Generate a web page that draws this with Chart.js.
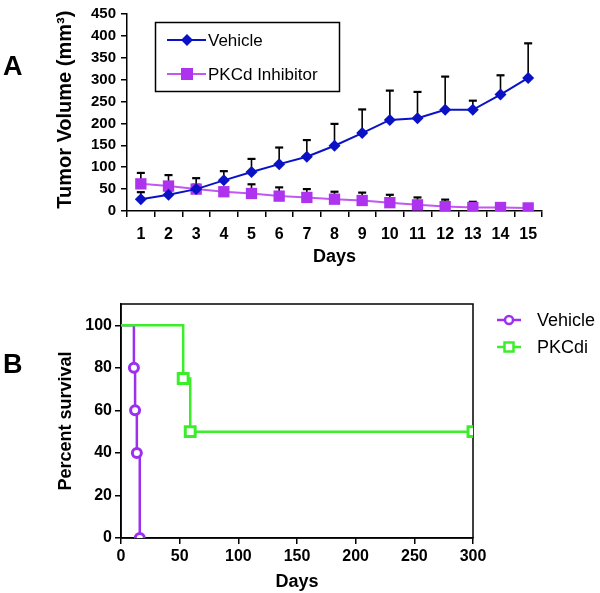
<!DOCTYPE html>
<html lang="en">
<head>
<meta charset="UTF-8">
<title>Tumor volume and survival</title>
<script src="https://cdn.jsdelivr.net/npm/chart.js"></script>
<style>
  body { margin: 0; background: #fff; font-family: "Liberation Sans", Arial, sans-serif; }
  #wrap { position: relative; width: 600px; height: 593px; }
  canvas { position: absolute; left: 0; }
  #chartA { top: 0; }
  #chartB { top: 280px; }
  .tag { position: absolute; left: 3px; font-weight: bold; font-size: 27px; line-height: 1; }
</style>
</head>
<body>
<div id="wrap">
  <canvas id="chartA" width="600" height="280"></canvas>
  <canvas id="chartB" width="600" height="313"></canvas>
  <div class="tag" style="top:53px">A</div>
  <div class="tag" style="top:351px">B</div>
</div>

<script>
// panel A: tumor volume (mean + upper SEM) per day
const days = ['1', '2', '3', '4', '5', '6', '7', '8', '9', '10', '11', '12', '13', '14', '15'];
const vehicleMean = [27, 37, 50, 70, 89, 107, 124, 149, 178, 208, 212, 231, 231, 266, 304];
const vehicleErr = [16, 10, 10, 21, 30, 38, 38, 50, 54, 67, 60, 76, 21, 44, 79];
const inhibitorMean = [62, 57, 50, 44, 40, 34, 31, 27, 24, 19, 14, 10, 8, 8, 7];
const inhibitorErr = [25, 25, 25, 8, 21, 20, 19, 17, 18, 18, 17, 16, 13, 3, 2];

// panel B: Kaplan-Meier survival
const survVehicleDays = [0, 11, 12, 13.5, 16];
const survVehicle = [100, 80, 60, 40, 0];
const survPkcdiDays = [0, 53, 59, 300];
const survPkcdi = [100, 75, 50, 50];

const BLUE = '#0B12C6';
const MAGENTA_LINE = '#C257F2';
const MAGENTA = '#AE33EE';
const PURPLE = '#9B30F0';
const GREEN = '#3CEE2A';

Chart.defaults.font.family = "'Liberation Sans', Arial, sans-serif";
Chart.defaults.color = '#000';

function marker(ctx, style, x, y, r, fill, stroke, lw) {
    ctx.save();
    ctx.beginPath();
    if (style === 'diamond') {
        ctx.moveTo(x, y - r); ctx.lineTo(x + r, y); ctx.lineTo(x, y + r); ctx.lineTo(x - r, y); ctx.closePath();
    } else if (style === 'square') {
        ctx.rect(x - r, y - r, 2 * r, 2 * r);
    } else {
        ctx.arc(x, y, r, 0, Math.PI * 2);
    }
    ctx.fillStyle = fill;
    ctx.fill();
    if (lw) { ctx.lineWidth = lw; ctx.strokeStyle = stroke; ctx.stroke(); }
    ctx.restore();
}

const errorBars = {
    id: 'errorBars',
    beforeDatasetsDraw(chart) {
        const { ctx, scales: { y } } = chart;
        ctx.save();
        ctx.strokeStyle = '#000';
        chart.data.datasets.forEach((ds, i) => {
            chart.getDatasetMeta(i).data.forEach((pt, j) => {
                const top = y.getPixelForValue(ds.data[j] + ds.errUp[j]);
                ctx.lineWidth = 1.6;
                ctx.beginPath();
                ctx.moveTo(pt.x, pt.y);
                ctx.lineTo(pt.x, top);
                ctx.stroke();
                ctx.lineWidth = 2.2;
                ctx.beginPath();
                ctx.moveTo(pt.x - 4, top);
                ctx.lineTo(pt.x + 4, top);
                ctx.stroke();
            });
        });
        ctx.restore();
    }
};

const keyA = {
    id: 'keyA',
    afterDraw(chart) {
        const ctx = chart.ctx;
        ctx.save();
        ctx.lineWidth = 1.5;
        ctx.strokeStyle = '#000';
        ctx.strokeRect(155.5, 22.5, 184, 69);
        const rows = [
            { y: 40, line: BLUE, style: 'diamond', fill: BLUE, r: 6, text: chart.data.datasets[0].label },
            { y: 74, line: MAGENTA_LINE, style: 'square', fill: MAGENTA, r: 6, text: chart.data.datasets[1].label }
        ];
        ctx.font = "17px 'Liberation Sans', Arial, sans-serif";
        ctx.textBaseline = 'middle';
        ctx.fillStyle = '#000';
        rows.forEach(r => {
            ctx.strokeStyle = r.line;
            ctx.lineWidth = 2;
            ctx.beginPath();
            ctx.moveTo(167, r.y); ctx.lineTo(206, r.y);
            ctx.stroke();
            marker(ctx, r.style, 187, r.y, r.r, r.fill);
            ctx.fillStyle = '#000';
            ctx.fillText(r.text, 208, r.y + 1);
        });
        ctx.restore();
    }
};

new Chart(document.getElementById('chartA'), {
    type: 'line',
    data: {
        labels: days,
        datasets: [
            {
                label: 'Vehicle',
                data: vehicleMean,
                errUp: vehicleErr,
                borderColor: BLUE,
                backgroundColor: BLUE,
                borderWidth: 2,
                pointStyle: 'rectRot',
                pointRadius: 6,
                pointBorderWidth: 0,
                tension: 0
            },
            {
                label: 'PKCd Inhibitor',
                data: inhibitorMean,
                errUp: inhibitorErr,
                borderColor: MAGENTA_LINE,
                backgroundColor: MAGENTA,
                borderWidth: 2,
                pointStyle: 'rect',
                pointRadius: 8,
                pointBorderWidth: 0,
                tension: 0
            }
        ]
    },
    options: {
        responsive: false,
        animation: false,
        layout: { padding: { top: 14, right: 58, left: 0, bottom: 0 } },
        plugins: { legend: { display: false }, tooltip: { enabled: false } },
        scales: {
            x: {
                offset: true,
                grid: { offset: true, drawOnChartArea: false, tickLength: 6, color: '#000', lineWidth: 1.5 },
                border: { color: '#000', width: 1.5 },
                ticks: { font: { size: 16, weight: 'bold' }, padding: 8 },
                title: { display: true, text: 'Days', font: { size: 18, weight: 'bold' }, padding: { top: 0, bottom: 12 } },
                afterFit(scale) { scale.height = 69; }
            },
            y: {
                min: 0,
                max: 450,
                ticks: { stepSize: 50, font: { size: 15, weight: 'bold' }, padding: 5 },
                grid: { drawOnChartArea: false, tickLength: 6, color: '#000', lineWidth: 1.5 },
                border: { color: '#000', width: 1.5 },
                title: { display: true, text: ' Tumor Volume (mm³)', font: { size: 20, weight: 'bold' }, padding: { top: 53, bottom: 0 } },
                afterFit(scale) { scale.width = 127; }
            }
        }
    },
    plugins: [errorBars, keyA]
});

const frameB = {
    id: 'frameB',
    beforeDatasetsDraw(chart) {
        const { ctx, chartArea: a } = chart;
        ctx.save();
        ctx.strokeStyle = '#000';
        ctx.lineWidth = 1.5;
        ctx.strokeRect(a.left, a.top, a.right - a.left, a.bottom - a.top);
        ctx.restore();
    },
    afterDraw(chart) {
        const ctx = chart.ctx;
        ctx.save();
        ctx.font = "18px 'Liberation Sans', Arial, sans-serif";
        ctx.textBaseline = 'middle';
        const rows = [
            { y: 40, color: PURPLE, style: 'circle', r: 4, text: chart.data.datasets[0].label },
            { y: 67, color: GREEN, style: 'square', r: 4.5, text: chart.data.datasets[1].label }
        ];
        rows.forEach(r => {
            ctx.strokeStyle = r.color;
            ctx.lineWidth = 2.5;
            ctx.beginPath();
            ctx.moveTo(497, r.y); ctx.lineTo(521, r.y);
            ctx.stroke();
            marker(ctx, r.style, 509, r.y, r.r, '#fff', r.color, 2.5);
            ctx.fillStyle = '#000';
            ctx.fillText(r.text, 537, r.y + 1);
        });
        ctx.restore();
    }
};

new Chart(document.getElementById('chartB'), {
    type: 'line',
    data: {
        datasets: [
            {
                label: 'Vehicle',
                data: survVehicleDays.map((d, i) => ({ x: d, y: survVehicle[i] })),
                borderColor: PURPLE,
                backgroundColor: '#fff',
                borderWidth: 2.5,
                stepped: true,
                pointStyle: 'circle',
                pointRadius: survVehicle.map((v, i) => i === 0 ? 0 : 4.5),
                pointBorderWidth: 3,
                pointBorderColor: PURPLE,
                order: 2
            },
            {
                label: 'PKCdi',
                data: survPkcdiDays.map((d, i) => ({ x: d, y: survPkcdi[i] })),
                borderColor: GREEN,
                backgroundColor: '#fff',
                borderWidth: 2.5,
                stepped: true,
                pointStyle: 'rect',
                pointRadius: survPkcdi.map((v, i) => i === 0 ? 0 : 7),
                pointBorderWidth: 3,
                pointBorderColor: GREEN,
                order: 1
            }
        ]
    },
    options: {
        responsive: false,
        animation: false,
        layout: { padding: { top: 24, right: 127, left: 0, bottom: 0 } },
        plugins: { legend: { display: false }, tooltip: { enabled: false } },
        scales: {
            x: {
                type: 'linear',
                min: 0,
                max: 300,
                ticks: { stepSize: 50, font: { size: 16, weight: 'bold' }, padding: 3 },
                grid: { drawOnChartArea: false, tickLength: 6, color: '#000', lineWidth: 1.5 },
                border: { color: '#000', width: 1.5 },
                title: { display: true, text: 'Days', font: { size: 18, weight: 'bold' }, padding: { top: 0, bottom: 0 } },
                afterFit(scale) { scale.height = 55; }
            },
            y: {
                min: 0,
                max: 110,
                ticks: { stepSize: 20, includeBounds: false, font: { size: 16, weight: 'bold' }, padding: 3 },
                grid: { drawOnChartArea: false, tickLength: 6, color: '#000', lineWidth: 1.5 },
                border: { color: '#000', width: 1.5 },
                title: { display: true, text: 'Percent survival', font: { size: 18, weight: 'bold' }, padding: { top: 55, bottom: 0 } },
                afterFit(scale) { scale.width = 121; }
            }
        }
    },
    plugins: [frameB]
});
</script>
</body>
</html>
